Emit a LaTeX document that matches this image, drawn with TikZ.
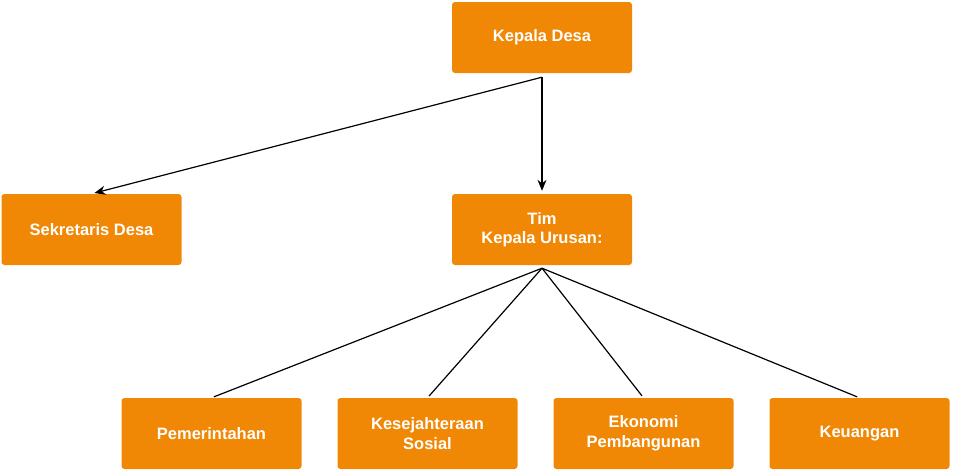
\documentclass[tikz,border=0pt]{standalone}
\usepackage{fontspec}
\setmainfont{Liberation Sans}
\usetikzlibrary{arrows.meta}

\definecolor{boxorange}{HTML}{F08705}

\begin{document}
\begin{tikzpicture}[x=1pt,y=-1pt,
		unitbox/.style={rectangle, rounded corners=3pt, fill=boxorange, text=white,
			minimum width=180pt, minimum height=71pt, align=center,
			font=\fontsize{16.5}{19.5}\selectfont\bfseries},
		link/.style={line width=1.2pt, black},
		linkarrow/.style={link, -{Stealth[length=11pt,width=9pt,inset=3.5pt]}, shorten >=3pt}]
		
		\useasboundingbox (0,0) rectangle (955,472);
		
		\node[unitbox] 
		(kades) at (542,37.5) {Kepala Desa};
		
		\node[unitbox] 
		(sekdes) at (91.5,229.5) {Sekretaris Desa};
		
		\node[unitbox] 
		(kaur) at (542,229.5) {Tim\\Kepala Urusan:};
		
		\node[unitbox] 
		(pem) at (211.5,433.5) {Pemerintahan};
		
		\node[unitbox] 
		(kesos) at (427.5,433.5) {Kesejahteraan\\Sosial};
		
		\node[unitbox] 
		(ekbang) at (643.5,433.5) {Ekonomi\\Pembangunan};
		
		\node[unitbox] 
		(keu) at (859.5,433.5) {Keuangan};
		
		% Edges...
		
		\coordinate (kadesOut) at ([yshift=-4pt]kades.south);
		\coordinate (kaurOut) at ([yshift=-3pt]kaur.south);
		
		\draw[linkarrow] (kadesOut) -- (sekdes.north);
		\draw[linkarrow] (kadesOut) -- (kaur.north);
		
		\draw[link, shorten >=2.5pt] (kaurOut) -- (pem.north);
		\draw[link, shorten >=2.5pt] (kaurOut) -- (kesos.north);
		\draw[link, shorten >=2.5pt] (kaurOut) -- (ekbang.north);
		\draw[link, shorten >=2.5pt] (kaurOut) -- (keu.north);
		
	\end{tikzpicture}
\end{document}
